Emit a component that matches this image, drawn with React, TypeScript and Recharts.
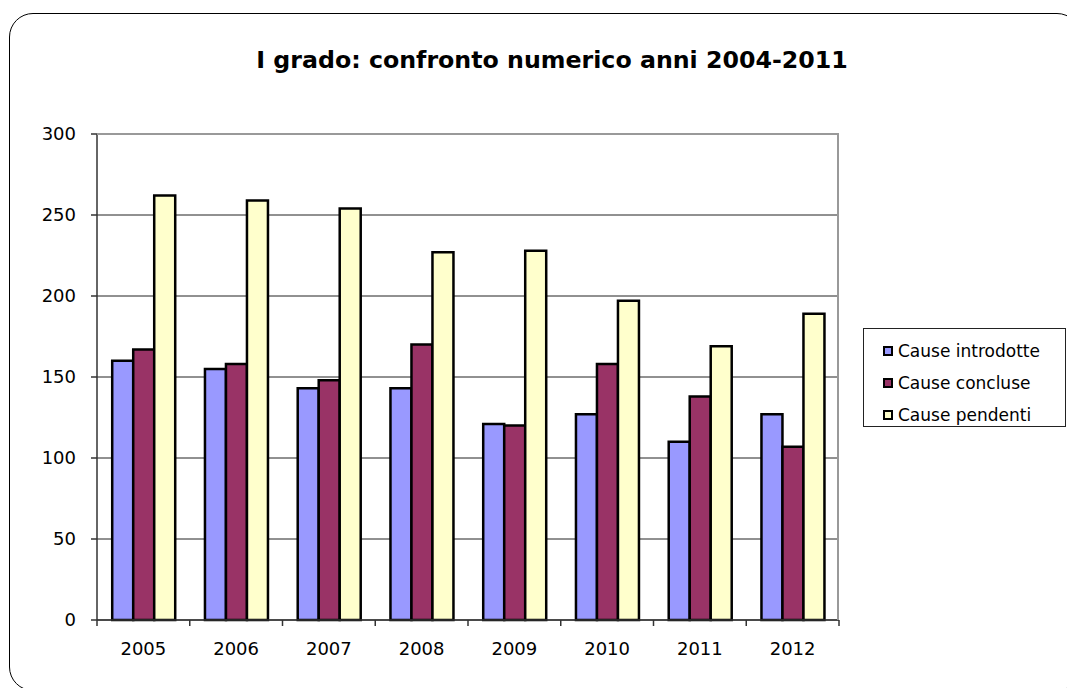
import { BarChart, Bar, XAxis, YAxis, CartesianGrid } from 'recharts';

// Cause di I grado per anno
const years = ['2005', '2006', '2007', '2008', '2009', '2010', '2011', '2012'];
const introdotte = [160, 155, 143, 143, 121, 127, 110, 127];
const concluse = [167, 158, 148, 170, 120, 158, 138, 107];
const pendenti = [262, 259, 254, 227, 228, 197, 169, 189];
const yTicks = [0, 50, 100, 150, 200, 250, 300];

const series = [
  { key: 'introdotte', name: 'Cause introdotte', color: '#9999FF' },
  { key: 'concluse', name: 'Cause concluse', color: '#993366' },
  { key: 'pendenti', name: 'Cause pendenti', color: '#FFFFCC' },
];

const data = years.map((year, i) => ({
  year,
  introdotte: introdotte[i],
  concluse: concluse[i],
  pendenti: pendenti[i],
}));

const W = 1067;
const H = 688;
const PLOT_LEFT = 97;
const PLOT_RIGHT = 839;
const PLOT_TOP = 134;
const PLOT_BOTTOM = 620;
const PLOT_W = PLOT_RIGHT - PLOT_LEFT;
const X_AXIS_H = 50;
const FONT = '"DejaVu Sans", Verdana, sans-serif';

function YearTick(props: any) {
  const { x, y, payload, index } = props;
  const bw = PLOT_W / years.length;
  return (
    <g>
      <line x1={x - bw / 2} x2={x - bw / 2} y1={y} y2={y + 6} stroke="#333" strokeWidth={1.5} />
      {index === years.length - 1 && (
        <line x1={x + bw / 2} x2={x + bw / 2} y1={y} y2={y + 6} stroke="#333" strokeWidth={1.5} />
      )}
      <text x={x} y={y + 22} dy="0.71em" textAnchor="middle" fill="#000" fontSize={18} fontFamily={FONT}>
        {payload.value}
      </text>
    </g>
  );
}

export default function App() {
  return (
    <div style={{ position: 'fixed', inset: 0, overflow: 'hidden', background: '#fff' }}>
      {/* cornice arrotondata */}
      <div
        style={{
          position: 'absolute',
          left: 9,
          top: 13,
          width: 1072,
          height: 678,
          border: '1.5px solid #000',
          borderRadius: 24,
          boxSizing: 'border-box',
        }}
      />
      <div
        style={{
          position: 'absolute',
          left: 0,
          width: 1104,
          top: 46,
          textAlign: 'center',
          fontFamily: FONT,
          fontWeight: 'bold',
          fontSize: 23.7,
          lineHeight: 'normal',
          color: '#000',
          whiteSpace: 'nowrap',
        }}
      >
        I grado: confronto numerico anni 2004-2011
      </div>

      <div style={{ position: 'absolute', left: 0, top: 0 }}>
        <BarChart
          width={W}
          height={H}
          data={data}
          margin={{ top: PLOT_TOP, right: W - PLOT_RIGHT, bottom: H - PLOT_BOTTOM - X_AXIS_H, left: 0 }}
          barCategoryGap="16.4%"
          barGap={0}
        >
          <CartesianGrid vertical={false} stroke="#222" strokeWidth={1} />
          <XAxis
            dataKey="year"
            height={X_AXIS_H}
            tickLine={false}
            tickSize={0}
            tickMargin={0}
            tick={<YearTick />}
            axisLine={{ stroke: '#333', strokeWidth: 1.5 }}
            interval={0}
          />
          <YAxis
            width={PLOT_LEFT}
            domain={[0, 300]}
            ticks={yTicks}
            tickSize={6}
            tickMargin={15}
            tickLine={{ stroke: '#333', strokeWidth: 1.5 }}
            axisLine={{ stroke: '#333', strokeWidth: 1.5 }}
            tick={{ fill: '#000', fontSize: 18, fontFamily: FONT }}
          />
          {series.map((s) => (
            <Bar
              key={s.key}
              dataKey={s.key}
              name={s.name}
              fill={s.color}
              stroke="#000"
              strokeWidth={2.5}
              isAnimationActive={false}
            />
          ))}
        </BarChart>
      </div>

      {/* bordo superiore e destro dell'area del grafico */}
      <div
        style={{
          position: 'absolute',
          left: PLOT_LEFT,
          top: PLOT_TOP - 1,
          width: PLOT_W,
          height: PLOT_BOTTOM - PLOT_TOP + 1,
          borderTop: '2px solid #999',
          borderRight: '2px solid #999',
          boxSizing: 'border-box',
          pointerEvents: 'none',
        }}
      />

      <div
        style={{
          position: 'absolute',
          left: 863,
          top: 328,
          width: 203,
          height: 99,
          border: '1.5px solid #222',
          boxSizing: 'border-box',
          fontFamily: FONT,
          fontSize: 17,
          color: '#000',
          paddingTop: 6,
        }}
      >
        {series.map((s) => (
          <div key={s.key} style={{ display: 'flex', alignItems: 'center', height: 32, paddingLeft: 19 }}>
            <span
              style={{
                display: 'inline-block',
                width: 10,
                height: 10,
                background: s.color,
                border: '2px solid #000',
                boxSizing: 'border-box',
                marginRight: 5,
              }}
            />
            <span>{s.name}</span>
          </div>
        ))}
      </div>
    </div>
  );
}
